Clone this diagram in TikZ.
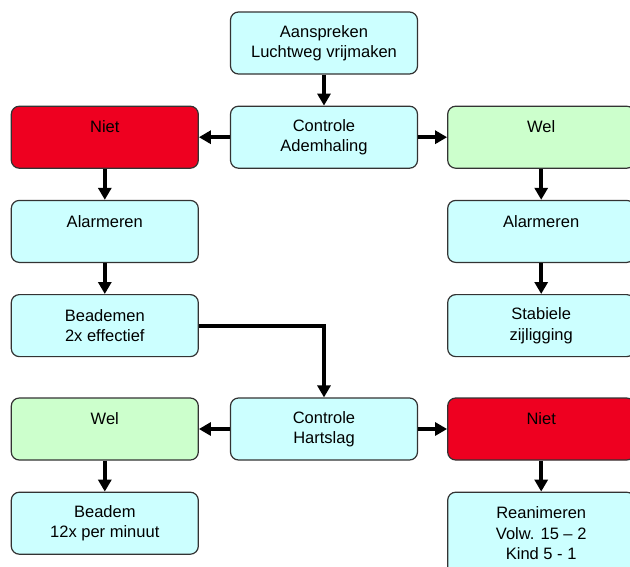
\documentclass[tikz,border=0pt]{standalone}
\usepackage{fontspec}
\setmainfont{Liberation Sans}
\usetikzlibrary{positioning,arrows.meta}
\definecolor{lichtblauw}{HTML}{CCFFFF}
\definecolor{rood}{HTML}{EE0020}
\definecolor{lichtgroen}{HTML}{CCFFCC}

\begin{document}
\begin{tikzpicture}[x=1pt, y=1pt,
    stap/.style={draw=black!80, line width=1.2pt, rounded corners=8pt, fill=lichtblauw,
      minimum width=187pt, minimum height=62pt, inner sep=0pt, align=center,
      font=\fontsize{16.5}{20.5}\selectfont},
    nee/.style={stap, fill=rood},
    ja/.style={stap, fill=lichtgroen},
    pijl/.style={line width=4pt, -{Triangle[length=12pt, width=13pt]}},
    node distance=31pt and 31pt]
  \useasboundingbox (0,0) rectangle (630,-566);

  \node[stap] (aansp) at (324,-43) {Aanspreken\\Luchtweg vrijmaken};
  \node[stap, below=of aansp] (adem) {Controle\\Ademhaling};
  \node[nee, left=of adem] (niet1) {Niet\\~};
  \node[ja, right=29pt of adem] (wel1) {Wel\\~};
  \node[stap, below=of niet1] (alarmL) {Alarmeren\\~};
  \node[stap, below=of wel1] (alarmR) {Alarmeren\\~};
  \node[stap, below=of alarmL] (beademen) {Beademen\\2x effectief};
  \node[stap, below=of alarmR] (stabiel) {Stabiele\\zijligging};

  \node[stap] (hart) at (324,-429) {Controle\\Hartslag};
  \node[ja, left=of hart] (wel2) {Wel\\~};
  \node[nee, right=29pt of hart] (niet2) {Niet\\~};
  \node[stap, below=of wel2] (beadem) {Beadem\\12x per minuut};
  \node[stap, below=of niet2, minimum height=82pt] (reanim) {Reanimeren\\Volw. 15 – 2\\Kind 5 - 1};

  % pijlen
  \draw[pijl] (aansp) -- (adem);
  \draw[pijl] (adem) -- (niet1);
  \draw[pijl] (adem) -- (wel1);
  \draw[pijl] (niet1) -- (alarmL);
  \draw[pijl] (alarmL) -- (beademen);
  \draw[pijl] (wel1) -- (alarmR);
  \draw[pijl] (alarmR) -- (stabiel);
  \draw[pijl] (beademen.east) -| (hart.north);
  \draw[pijl] (hart) -- (wel2);
  \draw[pijl] (hart) -- (niet2);
  \draw[pijl] (wel2) -- (beadem);
  \draw[pijl] (niet2) -- (reanim);
\end{tikzpicture}
\end{document}
